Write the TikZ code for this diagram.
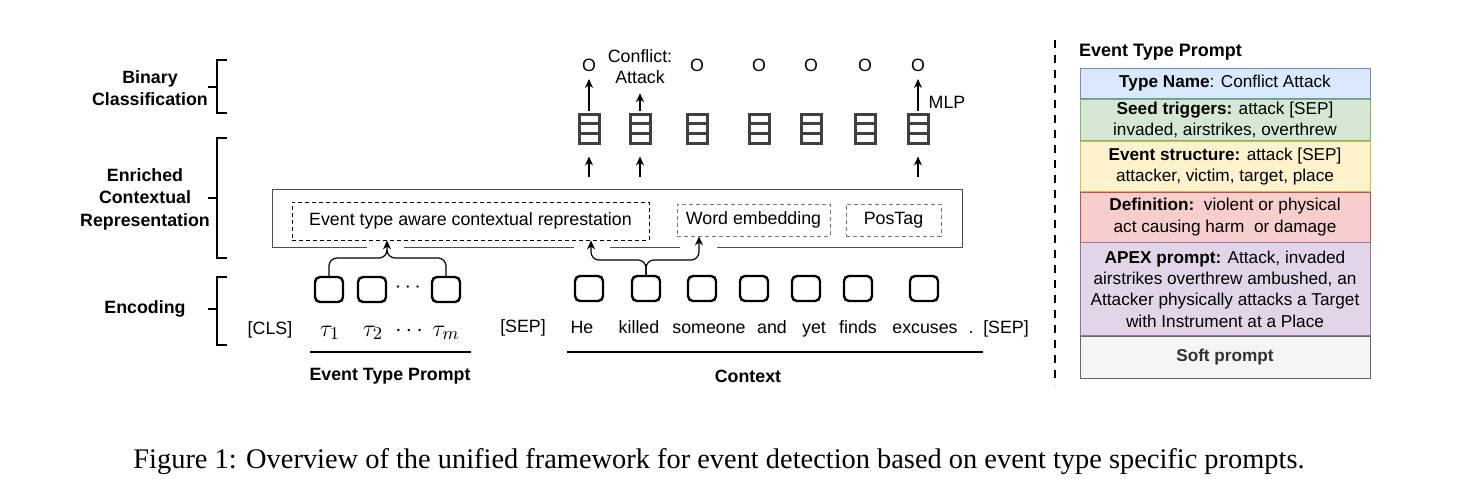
\documentclass[tikz,border=0pt]{standalone}
\usepackage{fontspec}
\setmainfont{Liberation Serif}
\setsansfont{Liberation Sans}
\usetikzlibrary{arrows.meta,positioning}

\definecolor{tnfill}{HTML}{DAE8FC}\definecolor{tnline}{HTML}{6C8EBF}
\definecolor{stfill}{HTML}{D5E8D4}\definecolor{stline}{HTML}{82B366}
\definecolor{esfill}{HTML}{FFF2CC}\definecolor{esline}{HTML}{D6B656}
\definecolor{dffill}{HTML}{F8CECC}\definecolor{dfline}{HTML}{B85450}
\definecolor{apfill}{HTML}{E1D5E7}\definecolor{apline}{HTML}{9673A6}
\definecolor{spfill}{HTML}{F5F5F5}\definecolor{spline}{HTML}{666666}

\tikzset{
  every node/.style={font=\sffamily\fontsize{8.9}{10.6}\selectfont},
  layer/.style={font=\sffamily\bfseries\fontsize{8.9}{11.2}\selectfont, align=center},
  word/.style={anchor=base},
  tokbox/.style={draw, line width=1.2pt, rounded corners=2.5pt, minimum width=14pt, minimum height=12.5pt, inner sep=0pt},
  cellbox/.style={draw=black!75, line width=1.5pt, minimum width=10pt, minimum height=14.5pt, inner sep=0pt},
  dbox/.style={draw, dash pattern=on 2pt off 1.5pt, inner sep=0pt},
  uparrow/.style={-{Stealth[length=4.5pt,width=4pt]}, line width=0.6pt},
  bracket/.style={line width=1.4pt},
  prow/.style={draw, minimum width=145pt, inner sep=0pt, align=center, font=\sffamily\fontsize{8.6}{10.6}\selectfont},
}

\begin{document}
\begin{tikzpicture}[x=0.5pt,y=-0.5pt]
    \useasboundingbox (0,0) rectangle (1457,478);

    % layer labels and brackets
    \node[layer] (bin) at (150,88) {Binary\\Classification};
    \node[layer] (ecr) at (145,199) {Enriched\\Contextual\\Representation};
    \node[layer] (enc) at (145,309) {Encoding};
    \draw[bracket] (227,60) -- (217,60) -- (217,113) -- (227,113) (208,87) -- (217,87);
    \draw[bracket] (227,138) -- (217,138) -- (217,258) -- (227,258) (208,198) -- (217,198);
    \draw[bracket] (227,277) -- (217,277) -- (217,345) -- (227,345) (208,309) -- (217,309);

    % enriched representation box
    \node[draw=black!70, line width=0.5pt, minimum width=345pt, minimum height=29pt, inner sep=0pt] (rep) at (617,218) {};
    \node[dbox, minimum width=178.5pt, minimum height=19pt] (etr) at (470.5,221) {Event type aware contextual represtation};
    \node[dbox, draw=black!55, minimum width=76.5pt, minimum height=16pt] (emb) at (753.5,220) {Word embedding};
    \node[dbox, draw=black!55, minimum width=47.5pt, minimum height=16pt] (pos) at (893.5,220) {PosTag};
    \fill[white] (367,244) rectangle (404,250);
    \fill[white] (574,244) rectangle (610,250);
    \fill[white] (680,244) rectangle (717,250);

    % event type prompt tokens
    \node[word] (cls) at (270,334) {[CLS]};
    \node[tokbox] (p1) at (329,289.5) {};
    \node[tokbox] (p2) at (372,289.5) {};
    \node[tokbox] (pm) at (446,289.5) {};
    \node[font=\fontsize{11}{11}\selectfont] (pdots) at (408,288) {$\cdots$};
    \node[word, font=\fontsize{12.5}{12.5}\selectfont] (tau1) at (330,336) {$\tau_1$};
    \node[word, font=\fontsize{12.5}{12.5}\selectfont] (tau2) at (373,336) {$\tau_2$};
    \node[word, font=\fontsize{12.5}{12.5}\selectfont] (taud) at (409,336) {$\cdots$};
    \node[word, font=\fontsize{12.5}{12.5}\selectfont] (taum) at (446,336) {$\tau_m$};
    \coordinate (pj) at (387,258);
    \draw[uparrow, rounded corners=4pt] (p1.north) |- (pj) -- (etr.south -| pj);
    \draw[line width=0.6pt, rounded corners=4pt] (pm.north) |- (pj) -- ++(0,-8);

    % context tokens
    \node[word] (sep1) at (523,332) {[SEP]};
    \foreach \w/\x [count=\i] in {He/582,killed/639,someone/709,and/772,yet/814,finds/858,excuses/925}{
        \node[word] (w\i) at (\x,333) {\w};
    }
    \node[word] (dot) at (971,333) {.};
    \node[word] (sep2) at (1006,333) {[SEP]};
    \foreach \x [count=\i] in {589,646,702,754,806,858,924}{
        \node[tokbox] (b\i) at (\x,288.5) {};
    }
    \coordinate (kl) at (591,260);
    \coordinate (kr) at (699,260);
    \draw[uparrow, rounded corners=4pt] (b2.north) |- (kl) -- (etr.south -| kl);
    \draw[uparrow, rounded corners=4pt] (b2.north) |- (kr) -- (emb.south -| kr);

    % segment lines
    \draw[line width=0.6pt] (310,352) -- (471,352);
    \draw[line width=0.6pt] (567,352) -- (983,352);
    \node[font=\sffamily\bfseries\fontsize{8.9}{10.6}\selectfont] (etp) at (390,376) {Event Type Prompt};
    \node[font=\sffamily\bfseries\fontsize{8.9}{10.6}\selectfont] (ctx) at (748,376) {Context};

    % classifier cells and outputs
    \foreach \x [count=\i] in {589,640,697,759,811,865,918}{
        \node[cellbox] (c\i) at (\x,128.5) {};
        \draw[black!75, line width=1.3pt] ([yshift=2.4pt]c\i.west) -- ([yshift=2.4pt]c\i.east)
                                          ([yshift=-2.4pt]c\i.west) -- ([yshift=-2.4pt]c\i.east);
    }
    \foreach \i/\x in {1/589,3/697,4/759,5/811,6/865,7/918}{
        \node (o\i) at (\x,65) {O};
    }
    \node[align=center, font=\sffamily\fontsize{8.9}{10.6}\selectfont] (o2) at (640,67) {Conflict:\\Attack};
    \node (mlp) at (947,102) {MLP};
    \foreach \i in {1,2,7}{
        \draw[uparrow, shorten <=6pt, shorten >=6pt] (rep.north -| c\i) -- (c\i.south);
    }
    \foreach \i in {1,7}{
        \draw[uparrow, shorten <=1pt, shorten >=7pt] (c\i.north) -- (o\i.center);
    }
    \draw[uparrow, shorten <=1pt, shorten >=1pt] (c2.north) -- (o2.south);

    % divider
    \draw[line width=1.3pt, dash pattern=on 4pt off 3.5pt] (1055,40) -- (1055,385);

    % event type prompt table
    \node[font=\sffamily\bfseries\fontsize{9}{10.6}\selectfont, anchor=west] (ttl) at (1072,52) {Event Type Prompt};
    \node[prow, fill=tnfill, draw=tnline, minimum height=15pt, anchor=north] (r1) at (1225,68) {\textbf{Type Name}: Conflict Attack};
    \node[prow, fill=stfill, draw=stline, minimum height=20.6pt, below=0pt of r1] (r2) {\textbf{Seed triggers:} attack [SEP]\\invaded, airstrikes, overthrew};
    \node[prow, fill=esfill, draw=esline, minimum height=25pt, below=0pt of r2] (r3) {\textbf{Event structure:} attack [SEP]\\attacker, victim, target, place};
    \node[prow, fill=dffill, draw=dfline, minimum height=25pt, below=0pt of r3] (r4) {\textbf{Definition:}\ \ violent or physical\\act causing harm\ \ or damage};
    \node[prow, fill=apfill, draw=apline, minimum height=46.4pt, below=0pt of r4] (r5) {\textbf{APEX prompt:} Attack, invaded\\airstrikes overthrew ambushed, an\\Attacker physically attacks a Target\\with Instrument at a Place};
    \node[prow, fill=spfill, draw=spline, text=black!80, minimum height=21pt, below=0pt of r5] (r6) {\textbf{Soft prompt}};

    % caption
    \node[font=\rmfamily\fontsize{14.2}{16}\selectfont] (cap) at (719,462) {Figure 1: Overview of the unified framework for event detection based on event type specific prompts.};
\end{tikzpicture}
\end{document}
